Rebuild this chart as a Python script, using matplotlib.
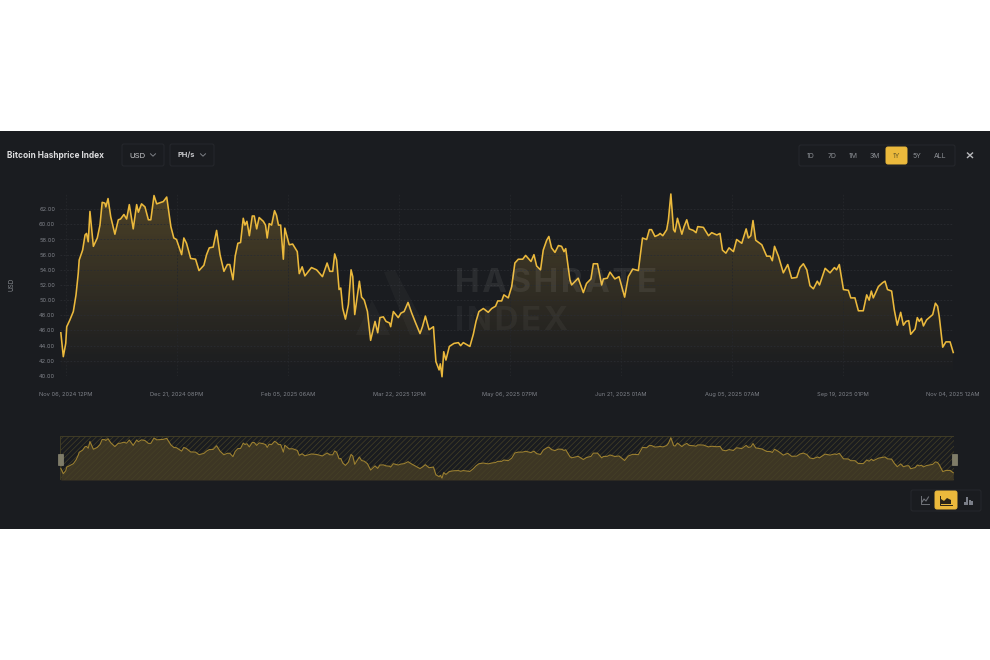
import numpy as np
import matplotlib
matplotlib.use("Agg")
import matplotlib.pyplot as plt
from matplotlib.colors import LinearSegmentedColormap
from matplotlib.patches import FancyBboxPatch, Polygon, Rectangle

plt.rcParams["font.family"] = ["Inter", "DejaVu Sans"]

# days since Nov 06, 2024 12PM
days = [-2.1, -1.1, -0.1, 0.3, 1.6, 3, 4.1, 5, 5.4, 6.8, 7.8, 8.4, 9.1, 9.8, 11.2, 12.8, 13.9, 14.8, 15.9, 16.3,
        17.2, 18.3, 20, 21.4, 22.3, 23.7, 24.8, 25.9, 27.5, 28.9, 29.6, 30.9, 32.3, 33.7, 34.7, 36, 37.1, 39.8,
        41.2, 42.9, 44.1, 45.2, 47.3, 48.2, 49.3, 51, 53, 54.4, 56.4, 57.5, 58.6, 60.2, 61.6, 63, 64.6, 66, 67,
        68.3, 69.2, 70.3, 71.4, 72.5, 73.2, 74, 75, 76.2, 77, 78, 79, 80.7, 81.6, 82.3, 83.1, 84.1, 85.3, 86.1,
        86.9, 87.8, 88.9, 89.5, 91.3, 92.7, 94.6, 95.4, 96.6, 97.7, 100.4, 102.5, 104.9, 106.8, 107.9,
        109.1, 109.9, 110.7, 111.7, 112.4, 113.2, 114.3, 115.5, 116.6, 117.3, 118.1, 120, 120.9, 122, 123.3,
        124.6, 126.4, 127.5, 128.4, 129.8, 130.9, 132.3, 132.8, 133.9, 134.9, 135.9, 137, 138.3, 139.1, 139.9,
        141.4, 143, 144.8, 145.8, 147, 148.5, 150.3, 151.3, 152.6, 153.1, 153.8, 154.5, 155.4, 156.8, 158.7,
        160.5, 161.4, 162.5, 165.2, 166.6, 167.7, 168.9, 170.7, 172.7, 174.1, 175.7, 176.6, 178.2, 179.1,
        180.9, 182.3, 183.6, 185, 186.8, 188, 190.2, 191.4, 192.5, 194.1, 195.2, 196.6, 197.5, 198.6, 200,
        201.4, 202.7, 203.7, 204.4, 206.1, 206.8, 209.5, 211.6, 212.9, 214.7, 215.7, 217.4, 219.1, 219.8,
        221.4, 222.5, 224.5, 226.2, 228.5, 230, 231.8, 234.1, 235.8, 237.5, 238.6, 239.5, 240.9, 242.3,
        243, 244.1, 245.7, 246.4, 247.4, 248.5, 249.1, 250.1, 251.9, 252.8, 253.9, 254.9, 256.6, 257.7, 258.4,
        260.7, 262.8, 264.1, 266.2, 267.5, 268.5, 269.9, 271.2, 273, 274.3, 276.4, 278.2, 279.1, 280.1, 281,
        282.1, 284.6, 286.6, 288, 288.9, 289.8, 291.4, 293.4, 295.2, 296.8, 298.9, 300.2, 301.6, 303, 304.3,
        305.7, 307.3, 308.2, 310.5, 312.5, 314.3, 315.2, 316.3, 318, 320, 321, 322.7, 324.1, 326.1, 327.5,
        328.5, 329.4, 330.2, 332.3, 334, 335, 336, 337.7, 338.8, 340, 341.4, 342.5, 343.6, 344.7, 345.5,
        347.3, 348.2, 349, 349.9, 350.7, 352, 354.5, 355.6, 356.5, 357.2, 358.6, 359.9, 361.6, 362.9]

price = [45.7, 42.55, 44.3, 46.5, 47.4, 48.5, 50.7, 53.5, 55.3, 56.6, 58.6, 58.8, 57.7, 61.7, 57.1, 58.2, 59.9, 62.9, 62.8, 62.3,
         63.4, 61, 58.7, 60.6, 60.7, 61.3, 60.7, 62.6, 59.4, 62.6, 61.6, 62.7, 62.3, 60.6, 60.6, 63.8, 62.7, 63,
         63.6, 59.7, 58.2, 58, 56, 58.2, 57.5, 55.5, 55.4, 53.9, 54.6, 56, 56.9, 57, 59.2, 56, 53.8, 54.7, 54.7,
         52.7, 55.8, 57.5, 57.6, 60.8, 59.9, 60.4, 58.5, 61.1, 61.1, 59.4, 60.9, 60.4, 59.9, 58.2, 60.1, 59.9, 61.8, 61.2,
         59.9, 59.9, 55.4, 59.5, 57.3, 57.4, 56.4, 53.5, 54.4, 53.2, 54.3, 54, 53.1, 54.9, 53.8,
         53.8, 56.1, 55.3, 51.4, 51.6, 48.9, 47.5, 49.4, 54, 53.1, 48.1, 52.5, 50.4, 50, 48.5,
         44.7, 47.2, 45.7, 47.7, 47.8, 47.2, 47, 46.5, 48.5, 48.1, 47.7, 48.3, 48.5, 49.1, 49.7,
         48.3, 47, 45.6, 46.5, 47.9, 46.1, 46.5, 41.9, 40.8, 41.6, 39.9, 43.2, 42.1, 43.9, 44.3,
         44.4, 44, 44.4, 43.9, 45.5, 47.2, 48.5, 48.9, 48.4, 48.9, 49.2, 49.9, 49.9, 50.7,
         50.3, 51.8, 54.9, 55.4, 55.4, 55.9, 55.1, 56, 54.5, 54, 56.6, 57.9, 58.4, 56.9, 56.3,
         57.2, 57.1, 56.4, 56.8, 52.7, 52, 52.9, 51, 52.2, 52.8, 54.8, 54.8, 52, 52.8,
         52.9, 53.7, 52.8, 53.1, 50.4, 53.1, 54.1, 53.9, 58.2, 58, 59.3, 59.3, 58.4, 58.6,
         58.8, 58.5, 59.3, 60.6, 64, 59.3, 59, 60.8, 58.7, 59.7, 60.6, 59.4, 59.2, 58.9, 59.7,
         59.6, 58.5, 58.9, 58.6, 58.8, 56.6, 56.2, 56.9, 56.4, 58, 57.5, 59.4, 58.2, 58.5, 60.5,
         57.9, 57.3, 55.8, 55.8, 55.2, 57.1, 55.8, 53.6, 54.7, 52.9, 53, 54.3, 54.8, 54, 51.9,
         51.5, 52.5, 52, 54.2, 53.6, 54.3, 54, 54.7, 51.4, 51.3, 50.3, 50.3, 48.6, 48.6, 50.7,
         50, 51.2, 50.3, 51.8, 52.3, 52.5, 51.4, 51.2, 48.7, 46.7, 48.4, 46.7, 47.2, 47.3, 45.5,
         46.2, 47.7, 47.2, 47.6, 46.6, 47.4, 48.1, 49.6, 49.2, 47.8, 43.8, 44.5, 44.5, 43.1]

y_ticks = [40, 42, 44, 46, 48, 50, 52, 54, 56, 58, 60, 62]
x_ticks = [0, 45.4, 90.8, 136.2, 181.6, 227, 272.4, 317.8, 362.8]
x_labels = ["Nov 06, 2024 12PM", "Dec 21, 2024 08PM", "Feb 05, 2025 06AM", "Mar 22, 2025 12PM",
            "May 06, 2025 07PM", "Jun 21, 2025 01AM", "Aug 05, 2025 07AM", "Sep 19, 2025 01PM",
            "Nov 04, 2025 12AM"]
ranges = ["1D", "7D", "1M", "3M", "1Y", "5Y", "ALL"]
range_x = [811, 832, 853, 875, 896, 917, 940]

GOLD = "#ebb93c"
PANEL = "#1a1c20"
BORDER = "#26282d"


def axes_px(fig, left, top, right, bottom, **kw):
    w, h = fig.get_size_inches() * fig.dpi
    return fig.add_axes([left / w, 1 - bottom / h, (right - left) / w, (bottom - top) / h], **kw)


def box(ax, x0, y0, x1, y1, fc = "none", ec = BORDER, r = 2, zorder = 2):
    ax.add_patch(FancyBboxPatch((x0 + r, y0 + r), x1 - x0 - 2 * r, y1 - y0 - 2 * r,
                                boxstyle = f"round,pad={r},rounding_size={r}",
                                fc = fc, ec = ec, lw = 0.7, zorder = zorder))


def chevron(ax, x, y):
    ax.plot([x - 2.5, x, x + 2.5], [y - 1.2, y + 1.2, y - 1.2], color = "#7d8086", lw = 0.7)


def plot_header(ax):
    ax.add_patch(Rectangle((0, 131), 990, 398, fc = PANEL, ec = "none", zorder = 0))
    ax.text(7, 155, "Bitcoin Hashprice Index", color = "#dcdcde", fontsize = 6.0,
            fontweight = "bold", va = "center")
    box(ax, 122, 144, 164, 166)
    box(ax, 170, 144, 214, 166)
    ax.text(129, 157.5, "USD", color = "#c8c9cc", fontsize = 5.6, va = "baseline")
    ax.text(178, 157.5, "PH/s", color = "#c8c9cc", fontsize = 5.4, fontweight = "bold", va = "baseline")
    chevron(ax, 153, 155)
    chevron(ax, 203, 155)

    box(ax, 799, 145, 955, 166)
    box(ax, 886, 147, 907, 164, fc = GOLD, ec = GOLD, zorder = 3)
    for label, x in zip(ranges, range_x):
        color = "#6a5a26" if label == "1Y" else "#8d9095"
        ax.text(x, 155.5, label, color = color, fontsize = 5, ha = "center", va = "center", zorder = 4)
    ax.plot([967.5, 972.5], [153, 157.5], color = "#b8b9bc", lw = 1)
    ax.plot([967.5, 972.5], [157.5, 153], color = "#b8b9bc", lw = 1)
    ax.text(11, 284, "USD", color = "#85888d", fontsize = 4.6, rotation = 90, ha = "center", va = "center")


def plot_buttons(ax):
    box(ax, 911, 490, 981, 511)
    box(ax, 935, 491, 957, 509, fc = GOLD, ec = GOLD, zorder = 3)
    # line icon
    ax.plot([921, 921, 929], [496, 504, 504], color = "#6f7278", lw = 0.7)
    ax.plot([922, 924, 926, 928.5], [502, 499, 501, 497], color = "#6f7278", lw = 0.8)
    # area icon
    ax.add_patch(Polygon([(941, 504), (941, 499), (944, 501), (947, 498), (951, 500), (951, 504)],
                         fc = "#2a2518", ec = "none", zorder = 4))
    ax.plot([940, 940, 952], [496, 505, 505], color = "#2a2518", lw = 0.7, zorder = 4)
    # bar icon
    for x, top in zip([963.5, 966, 968.5, 971], [502, 497, 500, 501]):
        ax.add_patch(Rectangle((x, top), 2.2, 505 - top, fc = "#7a7e88", ec = "none"))


def plot_main(ax):
    ax.set_facecolor("none")
    ax.set(xlim = [-2.45, 362.8], ylim = [40, 64])
    for side in ax.spines.values():
        side.set_visible(False)
    ax.hlines(y_ticks[1:], -2.45, 362.8, color = "#2a2c31", lw = 0.6, linestyles = (0, (2, 2)))
    ax.hlines(40, -2.45, 362.8, color = "#2c2e34", lw = 0.7)
    ax.vlines(x_ticks, 40, 64, color = "#25272b", lw = 0.6, linestyles = (0, (2, 2)))

    cmap = LinearSegmentedColormap.from_list("fade", [(0.92, 0.72, 0.24, 0.24), (0.92, 0.72, 0.24, 0.0)])
    img = ax.imshow(np.linspace(0, 1, 200)[:, None], cmap = cmap, aspect = "auto",
                    extent = [-2.45, 362.8, 40, 64], zorder = 1)
    poly = Polygon(list(zip(days, price)) + [(days[-1], 40), (days[0], 40)], fc = "none", ec = "none",
                   transform = ax.transData)
    ax.add_patch(poly)
    img.set_clip_path(poly)

    ax.plot(days, price, color = GOLD, lw = 1.15, zorder = 3, clip_on = False, solid_joinstyle = "round")
    ax.set_xticks(x_ticks, x_labels)
    ax.set_yticks(y_ticks, [f"{v:.2f}" for v in y_ticks])
    ax.tick_params(length = 0, colors = "#80838a", labelsize = 4.1)
    ax.tick_params(axis = "x", pad = 11.5)
    ax.tick_params(axis = "y", pad = 3.5)


def plot_mini(ax):
    ax.set_facecolor("none")
    ax.set(xlim = [-2.45, 363.2], ylim = [38.8, 65.0], xticks = [], yticks = [])
    for side in ax.spines.values():
        side.set_visible(False)
    ax.fill_between(days, price, 38.8, color = GOLD, alpha = 0.17, lw = 0, zorder = 1)
    ax.plot(days, price, color = "#9c8030", lw = 0.8, zorder = 3, solid_joinstyle = "round")
    plt.rcParams["hatch.linewidth"] = 0.5
    ax.add_patch(Rectangle((0, 0), 1, 1, transform = ax.transAxes, fc = "none",
                           ec = "#454026", hatch = "//////", lw = 0.6, zorder = 2))


def plot_watermark(ax):
    ax.set_facecolor("none")
    ax.axis("off")
    ax.set(xlim = [0, 990], ylim = [660, 0])
    ax.text(455, 283, "\u200a".join("HASHRATE"), color = "#ffffff", alpha = 0.07, fontsize = 23.8,
            fontweight = "bold", va = "center")
    ax.text(455, 322, "\u200a".join("INDEX"), color = "#ffffff", alpha = 0.045, fontsize = 23.8,
            fontweight = "bold", va = "center")
    ax.add_patch(Polygon([(384, 272), (395, 270), (430, 335), (410, 335)], fc = "#ffffff", alpha = 0.03, ec = "none"))
    ax.add_patch(Polygon([(356, 335), (372, 300), (390, 335)], fc = "#ffffff", alpha = 0.03, ec = "none"))
    # slider handles
    for x in [60.5, 954]:
        ax.add_patch(Rectangle((x - 2.5, 454), 5, 11, fc = "#7f7c68", ec = "#98957e", lw = 0.4))


fig = plt.figure(figsize = (9.9, 6.6), dpi = 100, facecolor = "white")

chrome = axes_px(fig, 0, 0, 990, 660, zorder = 0)
chrome.set(xlim = [0, 990], ylim = [660, 0])
chrome.axis("off")
plot_header(chrome)
plot_buttons(chrome)

main = axes_px(fig, 60, 194, 953, 376, zorder = 1)
plot_main(main)

mini = axes_px(fig, 60, 436, 954, 480, zorder = 1)
plot_mini(mini)

top = axes_px(fig, 0, 0, 990, 660, zorder = 2)
plot_watermark(top)

fig.savefig("out.png", dpi = 100)
